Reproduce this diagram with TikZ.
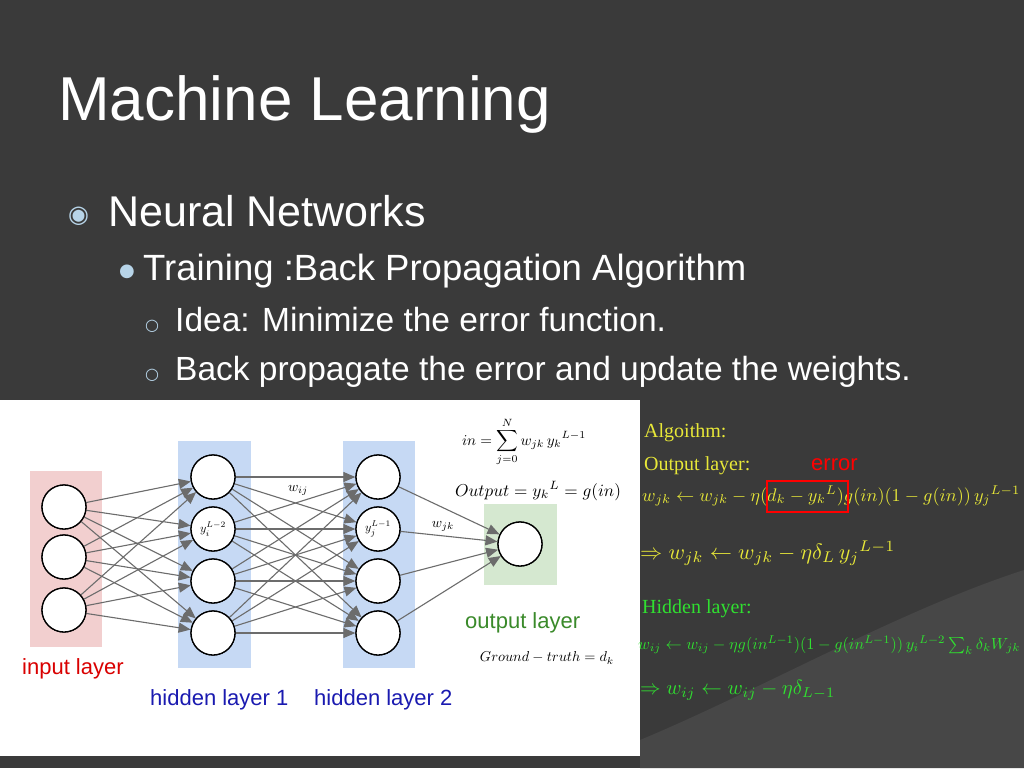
\documentclass[tikz,border=0pt]{standalone}
\usepackage{fontspec}
\usepackage{graphicx}
\setmainfont{Liberation Sans}
\newfontfamily\djv{DejaVu Sans}
\usetikzlibrary{arrows.meta}
\definecolor{bg}{HTML}{3A3A3A}
\definecolor{bgl}{HTML}{474747}
\definecolor{pinkbg}{HTML}{F2CFCF}
\definecolor{bluebg}{HTML}{C6D9F4}
\definecolor{greenbg}{HTML}{D5E8D0}
\definecolor{yel}{HTML}{E8E838}
\definecolor{grn}{HTML}{30E030}
\definecolor{lbl}{HTML}{1A1AB0}
\definecolor{ogrn}{HTML}{3A8A2A}
\definecolor{bul}{HTML}{B7D4E8}
\tikzset{
 neuron/.style={circle,draw=black,line width=1.3pt,fill=white,minimum size=44pt,inner sep=0pt},
 conn/.style={draw=gray!85!black,line width=1.1pt,-{Triangle[length=12pt,width=10pt]}},
 txt/.style={anchor=base west,inner sep=0pt,text=white},
 ftxt/.style={anchor=base west,inner sep=0pt},
}
\begin{document}
\begin{tikzpicture}[x=1pt,y=-1pt]
\useasboundingbox (0,0) rectangle (1024,768);
\fill[bg] (0,0) rectangle (1024,768);
\fill[bgl] (640,740) .. controls (760,690) and (900,610) .. (1024,570) -- (1024,768) -- (640,768) -- cycle;
\node[txt,font=\fontsize{62}{66}\selectfont] (title) at (58,120) {Machine Learning};
\node[txt,text=bul,font=\djv\fontsize{24}{26}\selectfont] (b1) at (68,222) {◉};
\node[txt,font=\fontsize{43}{46}\selectfont] (t1) at (108,226) {Neural Networks};
\node[txt,text=bul,font=\djv\fontsize{18}{20}\selectfont] (b2) at (119,276) {●};
\node[txt,font=\fontsize{36.5}{40}\selectfont] (t2) at (143,280) {Training :Back Propagation Algorithm};
\node[txt,text=bul,font=\djv\fontsize{16}{18}\selectfont] (b3) at (145,330) {○};
\node[txt,font=\fontsize{33.5}{36}\selectfont] (t3) at (175,331) {Idea: Minimize the error function.};
\node[txt,text=bul,font=\djv\fontsize{16}{18}\selectfont] (b4) at (145,379) {○};
\node[txt,font=\fontsize{33.5}{36}\selectfont] (t4) at (175,380) {Back propagate the error and update the weights.};
% image area
\fill[white] (0,400) rectangle (640,756);
\fill[pinkbg] (30,471) rectangle (102,647);
\fill[bluebg] (178,441) rectangle (251,668);
\fill[bluebg] (343,441) rectangle (415,668);
\fill[greenbg] (484,504) rectangle (557,585);
\node[neuron] (i1) at (64,507) {};
\node[neuron] (i2) at (64,557) {};
\node[neuron] (i3) at (64,610) {};
\node[neuron] (h1) at (213,477) {};
\node[neuron] (h2) at (213,529) {};
\node[neuron] (h3) at (213,581) {};
\node[neuron] (h4) at (213,633) {};
\node[neuron] (g1) at (378,477) {};
\node[neuron] (g2) at (378,529) {};
\node[neuron] (g3) at (378,581) {};
\node[neuron] (g4) at (378,633) {};
\node[neuron] (o) at (520,544) {};
\foreach \a in {i1,i2,i3}{\foreach \b in {h1,h2,h3,h4}{\draw[conn] (\a) -- (\b);}}
\foreach \a in {h1,h2,h3,h4}{\foreach \b in {g1,g2,g3,g4}{\draw[conn] (\a) -- (\b);}}
\foreach \a in {g1,g2,g3,g4}{\draw[conn] (\a) -- (o);}
\node[neuron] at (h1) {};\node[neuron] at (h2) {\scalebox{1.2}{$y_i^{L-2}$}};\node[neuron] at (h3) {};\node[neuron] at (h4) {};
\node[neuron] at (g1) {};\node[neuron] at (g2) {\scalebox{1.2}{$y_j^{L-1}$}};\node[neuron] at (g3) {};\node[neuron] at (g4) {};
\node[neuron] at (o) {};\node[neuron] at (i1) {};\node[neuron] at (i2) {};\node[neuron] at (i3) {};
\node (wij) at (298,490) {\scalebox{1.4}{$w_{ij}$}};
\node (wjk) at (443,526) {\scalebox{1.4}{$w_{jk}$}};
\node[ftxt,text=red!85!black,font=\fontsize{22}{24}\selectfont] (il) at (22,674) {input layer};
\node[ftxt,text=lbl,font=\fontsize{22}{24}\selectfont] (hl1) at (150,705) {hidden layer 1};
\node[ftxt,text=lbl,font=\fontsize{22}{24}\selectfont] (hl2) at (314,705) {hidden layer 2};
\node[ftxt,text=ogrn,font=\fontsize{22}{24}\selectfont] (ol) at (465,628) {output layer};
\node (f1) at (524,442) {\resizebox{124pt}{!}{$in=\displaystyle\sum_{j=0}^{N} w_{jk}\,y_k{}^{L-1}$}};
\node (f2) at (538,491) {\resizebox{166pt}{!}{$Output=y_k{}^{L}=g(in)$}};
\node (f3) at (547,658) {\resizebox{134pt}{!}{$Ground-truth=d_k$}};
% algorithm text
\node[ftxt,text=yel,font=\fontsize{20}{22}\selectfont] (alg) at (644,437) {\fontspec{Liberation Serif}Algoithm:};
\node[ftxt,text=yel,font=\fontsize{20}{22}\selectfont] (ol2) at (644,470) {\fontspec{Liberation Serif}Output layer:};
\node[ftxt,text=red,font=\fontsize{22}{24}\selectfont] (err) at (811,470) {error};
\node[text=yel,anchor=west,inner sep=0pt] (e1) at (642,496) {\resizebox{378pt}{!}{$w_{jk}\leftarrow w_{jk}-\eta(d_k-y_k{}^{L})g(in)(1-g(in))\,y_j{}^{L-1}$}};
\draw[red,line width=2pt] (767,481) rectangle (848,512);
\node[text=yel,anchor=west,inner sep=0pt] (e2) at (640,553) {\resizebox{255pt}{!}{$\Rightarrow w_{jk}\leftarrow w_{jk}-\eta\delta_L\,y_j{}^{L-1}$}};
\node[ftxt,text=grn,font=\fontsize{20}{22}\selectfont] (hl) at (642,613) {\fontspec{Liberation Serif}Hidden layer:};
\node[text=grn,anchor=west,inner sep=0pt] (e3) at (638,645) {\resizebox{382pt}{!}{$w_{ij}\leftarrow w_{ij}-\eta g(in^{L-1})(1-g(in^{L-1}))\,y_i{}^{L-2}\sum_k\delta_k W_{jk}$}};
\node[text=grn,anchor=west,inner sep=0pt] (e4) at (640,690) {\resizebox{195pt}{!}{$\Rightarrow w_{ij}\leftarrow w_{ij}-\eta\delta_{L-1}$}};
\end{tikzpicture}
\end{document}
